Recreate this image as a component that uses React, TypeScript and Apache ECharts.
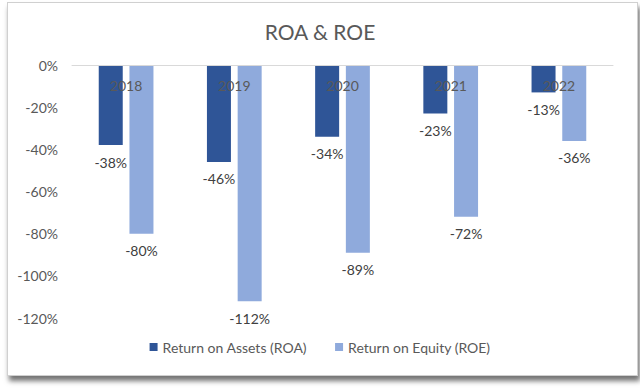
import React, { useEffect, useRef } from "react";
import * as echarts from "echarts";

const categories = ["2018", "2019", "2020", "2021", "2022"];
const roa = [-38, -46, -34, -23, -13];
const roe = [-80, -112, -89, -72, -36];
const seriesNames = ["Return on Assets (ROA)", "Return on Equity (ROE)"];
const titleText = "ROA & ROE";

const FONT = "Lato, 'Open Sans', sans-serif";

export default function App() {
  const ref = useRef<HTMLDivElement>(null);
  useEffect(() => {
    document.body.style.margin = "0";
    const chart = echarts.init(ref.current!, null, { renderer: "svg" });
    const labelCfg = {
      show: true,
      position: "bottom" as const,
      distance: 10,
      formatter: (p: any) => p.value + "%",
      color: "#404040",
      fontSize: 14,
      fontFamily: FONT,
    };
    chart.setOption({
      animation: false,
      title: {
        text: titleText,
        left: "center",
        top: 16,
        textStyle: { color: "#595959", fontSize: 21, fontWeight: "normal", fontFamily: FONT },
      },
      legend: {
        bottom: 31,
        left: "center",
        itemWidth: 8,
        itemHeight: 8,
        itemGap: 28,
        icon: "rect",
        textStyle: { color: "#595959", fontSize: 14, fontFamily: FONT },
        data: seriesNames,
      },
      grid: { left: 72, right: 27, top: 65, bottom: 72 },
      xAxis: {
        type: "category",
        position: "top",
        data: categories,
        axisLine: { show: true, onZero: false, lineStyle: { color: "#d9d9d9" } },
        axisTick: { show: false },
        axisLabel: { inside: true, color: "#595959", fontSize: 14, fontFamily: FONT, margin: 13 },
        z: 10,
      },
      yAxis: {
        type: "value",
        min: -120,
        max: 0,
        interval: 20,
        axisLabel: {
          formatter: (v: number) => v + "%",
          color: "#595959",
          fontSize: 14,
          fontFamily: FONT,
          margin: 14,
        },
        splitLine: { show: false },
        axisLine: { show: false },
        axisTick: { show: false },
      },
      series: [
        {
          name: seriesNames[0],
          type: "bar",
          data: roa,
          barWidth: 24,
          barGap: "28%",
          itemStyle: { color: "#2F5597" },
          label: labelCfg,
        },
        {
          name: seriesNames[1],
          type: "bar",
          data: roe,
          barWidth: 24,
          itemStyle: { color: "#8FAADC" },
          label: labelCfg,
        },
      ],
    });
    return () => chart.dispose();
  }, []);
  return (
    <div style={{ position: "fixed", left: 0, top: 0, width: 640, height: 390, background: "#fff" }}>
      <div
        style={{
          position: "absolute",
          left: 7,
          top: 2,
          width: 629,
          height: 372,
          border: "1px solid #d0d0d0",
          background: "#fff",
          boxShadow: "2px 5px 5px rgba(0,0,0,0.55)",
        }}
      />
      <div ref={ref} style={{ position: "absolute", left: 0, top: 0, width: 640, height: 390 }} />
    </div>
  );
}
